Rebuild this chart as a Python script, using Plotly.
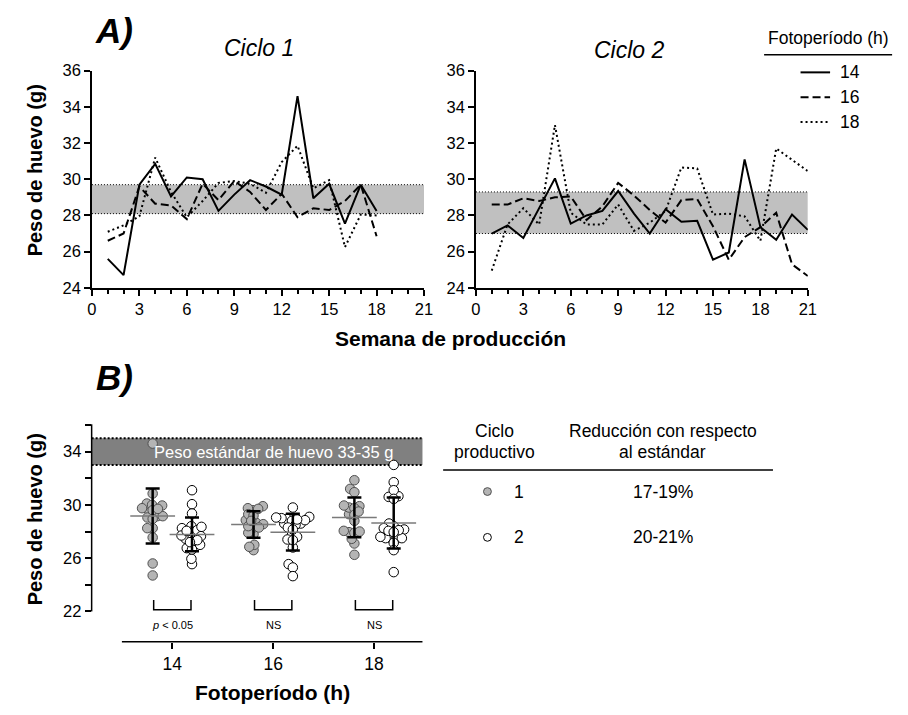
import math
import numpy as np
import plotly.graph_objects as go

# ---------------- data ----------------
weeks_c1 = list(range(1, 19))
weeks_c2 = list(range(1, 22))
photoperiods = [14, 16, 18]

# Ciclo 1 weekly egg weight (g)
c1_14 = [25.6, 24.7, 29.7, 30.85, 29.05, 30.1, 30.0, 28.25, 29.15, 29.95, 29.6, 29.15, 34.6, 28.95, 29.75, 27.55, 29.7, 28.25]
c1_16 = [26.6, 27.0, 29.6, 28.65, 28.55, 27.8, 29.75, 28.85, 29.9, 29.3, 28.3, 29.2, 27.9, 28.4, 28.3, 28.8, 29.7, 26.85]
c1_18 = [27.1, 27.45, 27.95, 31.2, 29.3, 27.9, 28.8, 29.8, 29.9, 29.75, 29.25, 30.95, 31.85, 29.5, 29.95, 26.25, 28.05, 28.0]
# Ciclo 2 weekly egg weight (g)
c2_14 = [27.0, 27.45, 26.75, 28.4, 30.05, 27.55, 28.0, 28.25, 29.35, 28.1, 27.0, 28.35, 27.65, 27.7, 25.55, 25.95, 31.1, 27.35, 26.65, 28.05, 27.2]
c2_16 = [28.6, 28.6, 28.95, 28.8, 29.0, 29.05, 27.75, 28.5, 29.8, 29.1, 28.3, 27.6, 28.85, 28.9, 27.4, 25.55, 26.8, 27.35, 28.15, 25.3, 24.65]
c2_18 = [24.95, 27.5, 28.4, 27.5, 33.0, 28.15, 27.5, 27.5, 28.6, 27.15, 27.6, 28.25, 30.65, 30.6, 28.05, 28.1, 27.95, 26.6, 31.7, 31.1, 30.45]

band_c1 = [28.1, 29.7]
band_c2 = [27.0, 29.3]
standard_band = [33, 35]
x_ticks_top = list(range(0, 22, 3))
y_ticks_top = list(range(24, 37, 2))
y_ticks_b = list(range(22, 37, 2))
y_ticklabels_b = ["22", "", "26", "", "30", "", "34", ""]
signif = ["<i>p</i> < 0.05", "NS", "NS"]
table_rows = [("1", "17-19%"), ("2", "20-21%")]

# ---------------- helpers ----------------
W, H = 908, 715
FONT = "Liberation Sans, Arial, sans-serif"


def px_x(p):
    return p / W


def px_y(p):
    return 1 - p / H


dash_styles = {14: "solid", 16: "8px,4px", 18: "2px,3px"}

fig = go.Figure()

# ---------------- panel A ----------------
for axis_suffix, weeks, series in [
    ("", weeks_c1, {14: c1_14, 16: c1_16, 18: c1_18}),
    ("2", weeks_c2, {14: c2_14, 16: c2_16, 18: c2_18}),
]:
    for pp in photoperiods:
        fig.add_trace(go.Scatter(
            x=weeks, y=series[pp], mode="lines",
            line=dict(color="black", width=2, dash=dash_styles[pp]),
            xaxis="x" + axis_suffix, yaxis="y" + axis_suffix,
            showlegend=False, hoverinfo="skip"))

shapes = []
for xr, yr, band in [("x", "y", band_c1), ("x2", "y2", band_c2)]:
    shapes.append(dict(type="rect", xref=xr, yref=yr, x0=0, x1=21, y0=band[0], y1=band[1],
                       fillcolor="#c0c0c0", line=dict(width=0), layer="below"))
    for yv in band:
        shapes.append(dict(type="line", xref=xr, yref=yr, x0=0, x1=21, y0=yv, y1=yv,
                           line=dict(color="black", width=1, dash="1px,2px"), layer="below"))

# ---------------- panel B ----------------
XR_B = [12.4, 18.96]
YR_B = [19.73, 36.05]
X_DOM_B = [88, 424]
Y_DOM_B = [649, 426]
ppx = (X_DOM_B[1] - X_DOM_B[0]) / (XR_B[1] - XR_B[0])
ppy = (Y_DOM_B[0] - Y_DOM_B[1]) / (YR_B[1] - YR_B[0])


def swarm(vals, center, d=5.5):
    order = sorted(range(len(vals)), key=lambda i: vals[i])
    placed = []
    xs = [0.0] * len(vals)
    for i in order:
        y = vals[i] * ppy
        cands = [0.0]
        for (qx, qy) in placed:
            dy = y - qy
            if abs(dy) < d:
                dx = math.sqrt(d * d - dy * dy)
                cands += [qx - dx, qx + dx]
        cands.sort(key=abs)
        for c in cands:
            if all((c - qx) ** 2 + (y - qy) ** 2 >= d * d - 1e-6 for qx, qy in placed):
                xs[i] = c
                placed.append((c, y))
                break
    return [center + v / ppx for v in xs]


groups = [
    (c1_14, c2_14), (c1_16, c2_16), (c1_18, c2_18)
]
offset = 0.39
for pp, (g1, g2) in zip(photoperiods, groups):
    for vals, off, fill, edge in [(g1, -offset, "#b4b4b4", "#505050"), (g2, offset, "white", "black")]:
        cx = pp + off
        fig.add_trace(go.Scatter(
            x=swarm(vals, cx), y=vals, mode="markers",
            marker=dict(size=9.5, color=fill, line=dict(color=edge, width=1)),
            xaxis="x3", yaxis="y3", showlegend=False, hoverinfo="skip", cliponaxis=False))
for pp, (g1, g2) in zip(photoperiods, groups):
    for vals, off in [(g1, -offset), (g2, offset)]:
        arr = np.array(vals)
        m, sd = arr.mean(), arr.std(ddof=1)
        fig.add_trace(go.Scatter(
            x=[pp + off], y=[m], mode="markers",
            marker=dict(symbol="line-ew", size=32, color="#7a7a7a",
                        line=dict(color="#7a7a7a", width=1.5)),
            error_y=dict(type="data", array=[sd], color="black", thickness=2.5, width=7),
            xaxis="x3", yaxis="y3", showlegend=False, hoverinfo="skip"))

# standard band
shapes.append(dict(type="rect", xref="x3 domain", yref="y3", x0=0, x1=1,
                   y0=standard_band[0], y1=standard_band[1],
                   fillcolor="#808080", line=dict(width=0), layer="below"))
for yv in standard_band:
    shapes.append(dict(type="line", xref="x3 domain", yref="y3", x0=0, x1=1, y0=yv, y1=yv,
                       line=dict(color="black", width=2, dash="2px,2px"), layer="below"))


def ydom(v):
    return (v - YR_B[0]) / (YR_B[1] - YR_B[0])


def xdom(v):
    return (v - XR_B[0]) / (XR_B[1] - XR_B[0])


# detached axis lines for panel B
shapes.append(dict(type="line", xref="x3 domain", yref="y3 domain", x0=0, x1=0,
                   y0=ydom(22), y1=ydom(YR_B[1]), line=dict(color="black", width=1.5)))
shapes.append(dict(type="line", xref="x3 domain", yref="y3 domain", x0=xdom(13.0), x1=1,
                   y0=0, y1=0, line=dict(color="black", width=1.5)))

# significance brackets
for pp in photoperiods:
    x0, x1 = pp - offset + 0.02, pp + offset - 0.02
    shapes.append(dict(type="path", xref="x3", yref="y3",
                       path=f"M {x0},22.85 L {x0},22.12 L {x1},22.12 L {x1},22.85",
                       line=dict(color="black", width=1.5)))

annotations = []
for pp, s in zip(photoperiods, signif):
    annotations.append(dict(x=pp, y=21.0, xref="x3", yref="y3", text=s, showarrow=False,
                            font=dict(family=FONT, size=11, color="black")))
annotations.append(dict(x=16.0, y=34.0, xref="x3", yref="y3",
                        text="Peso estándar de huevo 33-35 g", showarrow=False,
                        font=dict(family=FONT, size=16.5, color="white")))

# ---------------- text ----------------
def ann(x, y, text, size, angle=0, color="black", xanchor="center"):
    annotations.append(dict(x=px_x(x), y=px_y(y), xref="paper", yref="paper", text=text,
                            showarrow=False, textangle=angle, xanchor=xanchor, yanchor="middle",
                            font=dict(family=FONT, size=size, color=color)))


ann(111, 22, "<b><i>A)</i></b>", 35)
ann(111, 378, "<b><i>B)</i></b>", 35)
ann(258, 40, "<i>Ciclo 1</i>", 23)
ann(634, 42, "<i>Ciclo 2</i>", 23)
ann(30, 166, "<b>Peso de huevo (g)</b>", 20)
annotations[-1]["textangle"] = -90
ann(30, 524, "<b>Peso de huevo (g)</b>", 20, angle=-90)
ann(452, 338, "<b>Semana de producción</b>", 21)
ann(272, 701, "<b>Fotoperíodo (h)</b>", 21)

# legend (top right)
ann(836, 30, "Fotoperíodo (h)", 17.5)
shapes.append(dict(type="line", xref="paper", yref="paper", x0=px_x(771), x1=px_x(901),
                   y0=px_y(47), y1=px_y(47), line=dict(color="black", width=1.5)))
for i, pp in enumerate(photoperiods):
    yy = 65 + i * 25.5
    shapes.append(dict(type="line", xref="paper", yref="paper", x0=px_x(808), x1=px_x(838),
                       y0=px_y(yy), y1=px_y(yy),
                       line=dict(color="black", width=2, dash=dash_styles[pp])))
    ann(846, yy, str(pp), 17.5, xanchor="left")

# table (panel B, right)
ann(497, 433, "Ciclo", 17.5)
ann(497, 454, "productivo", 17.5)
ann(668, 433, "Reducción con respecto", 17.5)
ann(668, 454, "al estándar", 17.5)
shapes.append(dict(type="line", xref="paper", yref="paper", x0=px_x(445), x1=px_x(780),
                   y0=px_y(473), y1=px_y(473), line=dict(color="black", width=1.5)))
for i, ((lab, red), fill, edge) in enumerate(zip(table_rows, ["#b4b4b4", "white"], ["#505050", "black"])):
    yy = 495 + i * 47
    shapes.append(dict(type="circle", xref="paper", yref="paper",
                       x0=px_x(486), x1=px_x(494), y0=px_y(yy + 4), y1=px_y(yy - 4),
                       fillcolor=fill, line=dict(color=edge, width=1)))
    ann(522, yy, lab, 17.5)
    ann(668, yy, red, 17.5)

# ---------------- axes ----------------
tickfont = dict(family=FONT, size=16.5, color="black")
common = dict(showline=True, linecolor="black", linewidth=1.5, ticks="outside", ticklen=6,
              tickwidth=1.5, tickcolor="black", showgrid=False, zeroline=False, tickfont=tickfont)
minor = dict(dtick=1, tick0=0, ticks="outside", ticklen=4, tickwidth=1.5, tickcolor="black", showgrid=False)

fig.update_layout(
    width=W, height=H, margin=dict(l=0, r=0, t=0, b=0),
    paper_bgcolor="white", plot_bgcolor="rgba(0,0,0,0)",
    showlegend=False,
    xaxis=dict(domain=[px_x(88.3), px_x(425.6)], range=[0, 21], tickvals=x_ticks_top,
               minor=minor, anchor="y", **common),
    yaxis=dict(domain=[px_y(286), px_y(63.3)], range=[24, 36], tickvals=y_ticks_top,
               anchor="x", **common),
    xaxis2=dict(domain=[px_x(478.3), px_x(815.4)], range=[0, 21], tickvals=x_ticks_top,
                minor=minor, anchor="y2", **common),
    yaxis2=dict(domain=[px_y(286), px_y(63.3)], range=[24, 36], tickvals=y_ticks_top,
                anchor="x2", **common),
    xaxis3=dict(domain=[px_x(X_DOM_B[0]), px_x(X_DOM_B[1])], range=XR_B, tickvals=photoperiods,
                anchor="y3", showline=False, ticks="outside", ticklen=6, tickwidth=1.5,
                tickcolor="black", showgrid=False, zeroline=False,
                tickfont=dict(family=FONT, size=17.5, color="black")),
    yaxis3=dict(domain=[px_y(Y_DOM_B[0]), px_y(Y_DOM_B[1])], range=YR_B, tickvals=y_ticks_b,
                ticktext=y_ticklabels_b, anchor="x3", showline=False, ticks="outside", ticklen=6,
                tickwidth=1.5, tickcolor="black", showgrid=False, zeroline=False, tickfont=tickfont),
    shapes=shapes,
    annotations=annotations,
)

fig.write_html("out.html")
